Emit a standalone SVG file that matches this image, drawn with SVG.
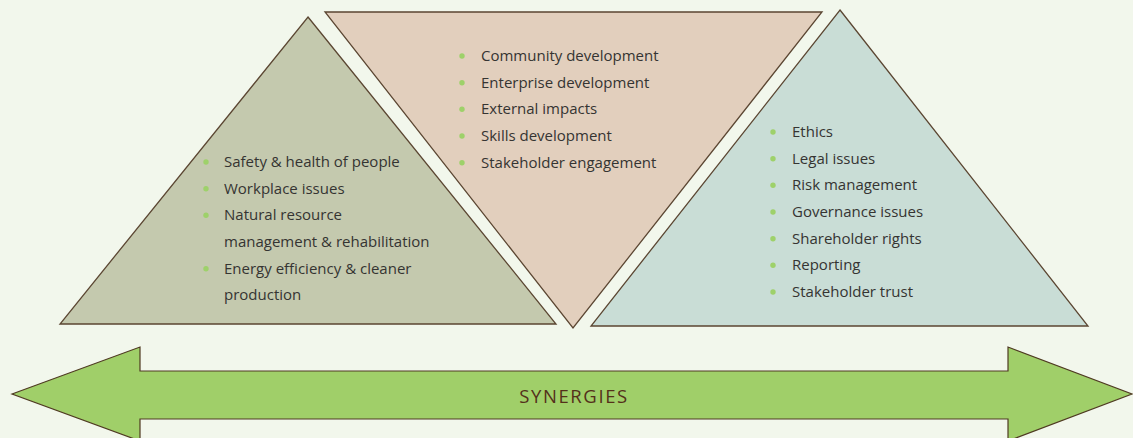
<svg xmlns="http://www.w3.org/2000/svg" width="1133" height="438" viewBox="0 0 1133 438">
<style>
.tri{stroke:#5b4632;stroke-width:1.3;stroke-linejoin:miter}
.t{font-family:"Open Sans","Liberation Sans",sans-serif;font-size:15px;fill:#353432}
.b{fill:#9ed16a}
.lbl{font-family:"Open Sans","Liberation Sans",sans-serif;font-size:18.5px;font-weight:500;letter-spacing:1.6px;fill:#54301a;text-anchor:middle}
</style>
<rect width="1133" height="438" fill="#f2f7ec"/>
<g id="social">
<polygon class="tri" points="325,12 822,12 573,328" fill="#e2cfbd"/>
<g class="b"><circle cx="462" cy="56" r="2.7"/><circle cx="462" cy="82.7" r="2.7"/><circle cx="462" cy="109.3" r="2.7"/><circle cx="462" cy="136" r="2.7"/><circle cx="462" cy="162.7" r="2.7"/></g>
<text class="t" x="481" y="61">Community development</text>
<text class="t" x="481" y="87.7">Enterprise development</text>
<text class="t" x="481" y="114.3">External impacts</text>
<text class="t" x="481" y="141">Skills development</text>
<text class="t" x="481" y="167.7">Stakeholder engagement</text>
</g>
<g id="environment">
<polygon class="tri" points="308,17 556,324 60,324" fill="#c4c9ae"/>
<g class="b"><circle cx="206" cy="162" r="2.7"/><circle cx="206" cy="188.7" r="2.7"/><circle cx="206" cy="215.3" r="2.7"/><circle cx="206" cy="268.7" r="2.7"/></g>
<text class="t" x="224" y="167">Safety &amp; health of people</text>
<text class="t" x="224" y="193.7">Workplace issues</text>
<text class="t" x="224" y="220.3">Natural resource</text>
<text class="t" x="224" y="247">management &amp; rehabilitation</text>
<text class="t" x="224" y="273.7">Energy efficiency &amp; cleaner</text>
<text class="t" x="224" y="300.3">production</text>
</g>
<g id="governance">
<polygon class="tri" points="840,10 1088,326 591,326" fill="#c9ddd6"/>
<g class="b"><circle cx="773" cy="132" r="2.7"/><circle cx="773" cy="158.7" r="2.7"/><circle cx="773" cy="185.3" r="2.7"/><circle cx="773" cy="212" r="2.7"/><circle cx="773" cy="238.7" r="2.7"/><circle cx="773" cy="265.3" r="2.7"/><circle cx="773" cy="292" r="2.7"/></g>
<text class="t" x="792" y="137">Ethics</text>
<text class="t" x="792" y="163.7">Legal issues</text>
<text class="t" x="792" y="190.3">Risk management</text>
<text class="t" x="792" y="217">Governance issues</text>
<text class="t" x="792" y="243.7">Shareholder rights</text>
<text class="t" x="792" y="270.3">Reporting</text>
<text class="t" x="792" y="297">Stakeholder trust</text>
</g>
<g id="synergies">
<polygon points="12,394 140,347 140,371 1008,371 1008,347 1132,394 1008,441 1008,419 140,419 140,441" fill="#a0cf69" stroke="#4f3a22" stroke-width="1.2"/>
<text class="lbl" x="574" y="403">SYNERGIES</text>
</g>
</svg>
